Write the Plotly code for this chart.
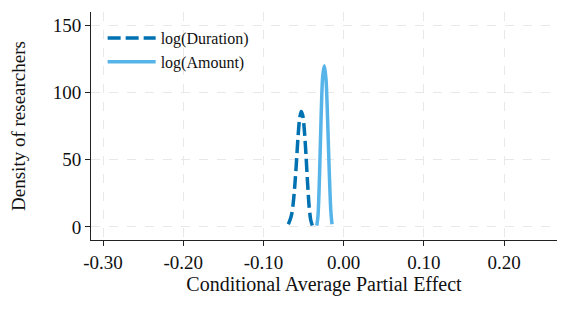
import plotly.graph_objects as go

# values
duration_x = [-0.069, -0.067, -0.065, -0.063, -0.061, -0.059, -0.057, -0.055, -0.053, -0.051,
              -0.049, -0.047, -0.045, -0.043, -0.041, -0.039]
duration_y = [2, 5, 9, 17, 30, 47, 66, 80, 86, 83, 72, 54, 33, 15, 5, 1]

amount_x = [-0.0335, -0.032, -0.030, -0.028, -0.026, -0.024, -0.022, -0.020, -0.018, -0.016, -0.0145]
amount_y = [1, 8, 40, 84, 113, 120, 110, 80, 42, 12, 2]

x_ticks = [-0.30, -0.20, -0.10, 0.00, 0.10, 0.20]
y_ticks = [0, 50, 100, 150]

FONT = "Liberation Serif"
TEXT = "#111111"

fig = go.Figure()

fig.add_trace(go.Scatter(
    x=duration_x, y=duration_y,
    mode="lines", name="log(Duration)",
    line=dict(color="#0072B2", width=3.5, dash="13px,5px", shape="spline", smoothing=0.8),
))

fig.add_trace(go.Scatter(
    x=amount_x, y=amount_y,
    mode="lines", name="log(Amount)",
    line=dict(color="#56B4E9", width=3.5, shape="spline", smoothing=0.8),
))

axis_common = dict(
    showgrid=True, gridcolor="#e8e8e8", griddash="dash", gridwidth=1,
    showline=True, linecolor="#222222", linewidth=1,
    ticks="outside", ticklen=5, tickcolor="#222222",
    zeroline=False, automargin=False,
    tickfont=dict(family=FONT, size=19, color=TEXT),
)

fig.update_xaxes(
    range=[-0.315, 0.266],
    tickvals=x_ticks,
    ticktext=[f"{v:.2f}" for v in x_ticks],
    title=dict(text="Conditional Average Partial Effect",
               font=dict(family=FONT, size=20, color=TEXT), standoff=4),
    **axis_common,
)

fig.update_yaxes(
    range=[-9.7, 160],
    tickvals=y_ticks,
    title=dict(text="Density of researchers",
               font=dict(family=FONT, size=19, color=TEXT), standoff=22),
    **axis_common,
)

fig.update_layout(
    width=568, height=320,
    margin=dict(l=91, r=11, t=12, b=80),
    plot_bgcolor="white", paper_bgcolor="white",
    font=dict(family=FONT, color=TEXT),
    legend=dict(
        x=0.025, y=0.96, xanchor="left", yanchor="top",
        bgcolor="rgba(0,0,0,0)",
        font=dict(family=FONT, size=16, color=TEXT),
        itemwidth=48,
        tracegroupgap=2,
    ),
)

# drop the default page margin so the figure sits at the window's corner
fig.write_html("out.html", config={"displayModeBar": False},
               post_script="document.body.style.margin='0';")
